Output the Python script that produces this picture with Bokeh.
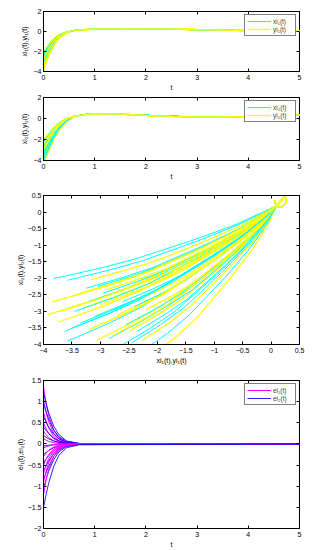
from bokeh.plotting import figure
from bokeh.layouts import column
from bokeh.models import LinearAxis, FixedTicker, Legend, LegendItem, Range1d
from bokeh.embed import file_html
from bokeh.resources import INLINE

# ---------------- data ----------------
t_head = [0, 0.05, 0.1, 0.2, 0.3, 0.45]
t_tail = [0.6, 0.8, 1, 1.5, 2, 2.5, 3, 3.5, 4, 4.5, 5]
x1_tail = [0.1, 0.19, 0.24, 0.27, 0.27, 0.23, 0.18, 0.13, 0.09, 0.07, 0.06]
x2_tail = [0.2, 0.38, 0.46, 0.41, 0.3, 0.21, 0.15, 0.15, 0.2, 0.28, 0.36]

xi1_head = [
    [-3.82, -3.04, -2.41, -1.39, -0.68, -0.14],
    [-3.58, -2.84, -2.26, -1.30, -0.64, -0.12],
    [-3.63, -2.88, -2.29, -1.32, -0.65, -0.12],
    [-3.58, -2.84, -2.26, -1.30, -0.64, -0.12],
    [-3.35, -2.66, -2.11, -1.21, -0.59, -0.11],
    [-3.20, -2.54, -2.01, -1.15, -0.56, -0.10],
    [-2.95, -2.34, -1.85, -1.06, -0.51, -0.08],
    [-2.85, -2.26, -1.79, -1.02, -0.49, -0.08],
    [-2.70, -2.14, -1.69, -0.96, -0.46, -0.07],
    [-2.55, -2.02, -1.60, -0.91, -0.43, -0.06],
    [-2.40, -1.90, -1.50, -0.85, -0.40, -0.05],
    [-2.30, -1.82, -1.44, -0.81, -0.38, -0.04],
    [-2.80, -2.22, -1.76, -1.00, -0.48, -0.07],
    [-3.45, -2.74, -2.17, -1.25, -0.61, -0.11],
    [-2.20, -1.74, -1.37, -0.77, -0.36, -0.04],
    [-3.05, -2.42, -1.92, -1.10, -0.53, -0.09],
    [-3.50, -2.78, -2.20, -1.27, -0.62, -0.12],
    [-3.25, -2.58, -2.04, -1.17, -0.57, -0.10],
    [-2.60, -2.06, -1.63, -0.93, -0.44, -0.06],
    [-2.45, -1.94, -1.53, -0.87, -0.41, -0.05],
    [-3.10, -2.46, -1.95, -1.12, -0.54, -0.09],
    [-2.35, -1.86, -1.47, -0.83, -0.39, -0.05],
]
xi2_head = [
    [-2.01, -1.71, -1.43, -0.86, -0.42, 0.00],
    [-2.06, -1.75, -1.47, -0.88, -0.43, -0.01],
    [-3.60, -3.09, -2.63, -1.65, -0.91, -0.21],
    [-3.90, -3.35, -2.85, -1.80, -1.00, -0.25],
    [-3.35, -2.88, -2.44, -1.53, -0.83, -0.17],
    [-2.70, -2.31, -1.95, -1.20, -0.63, -0.09],
    [-2.45, -2.09, -1.76, -1.08, -0.55, -0.06],
    [-3.82, -3.28, -2.79, -1.76, -0.98, -0.24],
    [-4.10, -3.53, -3.00, -1.90, -1.06, -0.27],
    [-3.40, -2.92, -2.48, -1.55, -0.85, -0.18],
    [-2.85, -2.44, -2.06, -1.28, -0.68, -0.11],
    [-4.25, -3.66, -3.11, -1.98, -1.11, -0.29],
    [-2.95, -2.53, -2.14, -1.33, -0.71, -0.12],
    [-3.00, -2.57, -2.18, -1.35, -0.72, -0.13],
    [-3.20, -2.75, -2.33, -1.45, -0.79, -0.16],
    [-2.25, -1.92, -1.61, -0.98, -0.49, -0.03],
    [-3.50, -3.01, -2.55, -1.60, -0.88, -0.19],
    [-2.30, -1.96, -1.65, -1.00, -0.51, -0.04],
    [-2.70, -2.31, -1.95, -1.20, -0.63, -0.09],
    [-3.95, -3.40, -2.89, -1.83, -1.02, -0.25],
    [-3.15, -2.70, -2.29, -1.43, -0.77, -0.15],
    [-3.60, -3.09, -2.63, -1.65, -0.91, -0.21],
]
yi1_head = [
    [-3.85, -3.06, -2.43, -1.40, -0.69, -0.14],
    [-3.92, -3.12, -2.47, -1.43, -0.70, -0.14],
    [-3.73, -2.96, -2.35, -1.36, -0.67, -0.13],
    [-3.18, -2.52, -2.00, -1.15, -0.56, -0.10],
    [-3.06, -2.43, -1.92, -1.10, -0.53, -0.09],
    [-2.26, -1.79, -1.41, -0.80, -0.37, -0.04],
    [-3.50, -2.78, -2.20, -1.27, -0.62, -0.12],
    [-3.30, -2.62, -2.08, -1.19, -0.58, -0.10],
    [-2.90, -2.30, -1.82, -1.04, -0.50, -0.08],
    [-2.70, -2.14, -1.69, -0.96, -0.46, -0.07],
    [-2.50, -1.98, -1.56, -0.89, -0.42, -0.06],
    [-2.60, -2.06, -1.63, -0.93, -0.44, -0.06],
    [-2.05, -1.62, -1.28, -0.72, -0.33, -0.03],
    [-3.00, -2.38, -1.88, -1.08, -0.52, -0.09],
    [-2.40, -1.90, -1.50, -0.85, -0.40, -0.05],
    [-3.20, -2.54, -2.01, -1.15, -0.56, -0.10],
    [-3.70, -2.94, -2.33, -1.34, -0.66, -0.13],
    [-3.00, -2.38, -1.88, -1.08, -0.52, -0.09],
    [-2.80, -2.22, -1.76, -1.00, -0.48, -0.07],
    [-3.35, -2.66, -2.11, -1.21, -0.59, -0.11],
    [-2.20, -1.74, -1.37, -0.77, -0.36, -0.04],
    [-2.75, -2.18, -1.72, -0.98, -0.47, -0.07],
]
yi2_head = [
    [-2.71, -2.32, -1.96, -1.21, -0.63, -0.09],
    [-3.10, -2.66, -2.25, -1.40, -0.75, -0.14],
    [-3.32, -2.85, -2.42, -1.51, -0.82, -0.17],
    [-2.05, -1.74, -1.46, -0.88, -0.43, -0.01],
    [-3.87, -3.33, -2.83, -1.79, -0.99, -0.24],
    [-3.88, -3.34, -2.84, -1.79, -1.00, -0.24],
    [-2.55, -2.18, -1.84, -1.13, -0.58, -0.07],
    [-2.90, -2.48, -2.10, -1.30, -0.69, -0.12],
    [-2.35, -2.01, -1.69, -1.03, -0.52, -0.05],
    [-3.10, -2.66, -2.25, -1.40, -0.75, -0.14],
    [-3.60, -3.09, -2.63, -1.65, -0.91, -0.21],
    [-2.55, -2.18, -1.84, -1.13, -0.58, -0.07],
    [-4.30, -3.70, -3.15, -2.00, -1.13, -0.30],
    [-3.40, -2.92, -2.48, -1.55, -0.85, -0.18],
    [-2.70, -2.31, -1.95, -1.20, -0.63, -0.09],
    [-3.55, -3.05, -2.59, -1.63, -0.89, -0.20],
    [-3.00, -2.57, -2.18, -1.35, -0.72, -0.13],
    [-2.80, -2.40, -2.03, -1.25, -0.66, -0.10],
    [-3.75, -3.22, -2.74, -1.73, -0.96, -0.23],
    [-2.45, -2.09, -1.76, -1.08, -0.55, -0.06],
    [-2.95, -2.53, -2.14, -1.33, -0.71, -0.12],
    [-2.45, -2.09, -1.76, -1.08, -0.55, -0.06],
]

t_err = [0, 0.05, 0.1, 0.2, 0.3, 0.45, 0.7, 5]
ei1 = [
    [1.35, 0.97, 0.68, 0.32, 0.15, 0.04, 0, 0],
    [1.05, 0.76, 0.53, 0.25, 0.12, 0.03, 0, 0],
    [0.75, 0.54, 0.38, 0.18, 0.08, 0.02, 0, 0],
    [0.5, 0.36, 0.25, 0.12, 0.06, 0.02, 0, 0],
    [0.3, 0.22, 0.15, 0.07, 0.03, 0.01, 0, 0],
    [0.12, 0.09, 0.06, 0.03, 0.01, 0, 0, 0],
    [-0.1, -0.07, -0.05, -0.02, -0.01, 0, 0, 0],
    [-0.3, -0.22, -0.15, -0.07, -0.03, -0.01, 0, 0],
    [-0.5, -0.36, -0.25, -0.12, -0.06, -0.02, 0, 0],
    [-0.7, -0.5, -0.35, -0.17, -0.08, -0.02, 0, 0],
    [-0.9, -0.65, -0.45, -0.22, -0.1, -0.03, 0, 0],
    [-1.2, -0.86, -0.6, -0.29, -0.13, -0.04, 0, 0],
]
ei2 = [
    [1.2, 0.96, 0.74, 0.42, 0.22, 0.07, 0.01, 0],
    [0.95, 0.76, 0.59, 0.33, 0.17, 0.06, 0.01, 0],
    [0.65, 0.52, 0.4, 0.23, 0.12, 0.04, 0.01, 0],
    [0.4, 0.32, 0.25, 0.14, 0.07, 0.02, 0, 0],
    [0.2, 0.16, 0.12, 0.07, 0.04, 0.01, 0, 0],
    [-0.05, -0.04, -0.03, -0.02, -0.01, 0, 0, 0],
    [-0.25, -0.2, -0.16, -0.09, -0.05, -0.02, 0, 0],
    [-0.45, -0.36, -0.28, -0.16, -0.08, -0.03, 0, 0],
    [-0.65, -0.52, -0.4, -0.23, -0.12, -0.04, -0.01, 0],
    [-0.85, -0.68, -0.53, -0.3, -0.15, -0.05, -0.01, 0],
    [-1.05, -0.84, -0.65, -0.37, -0.19, -0.06, -0.01, 0],
    [-1.5, -1.2, -0.93, -0.53, -0.27, -0.09, -0.02, 0],
]

t_ticks = [0, 1, 2, 3, 4, 5]
y12_ticks = [-4, -2, 0, 2]
phase_ticks = [-4, -3.5, -3, -2.5, -2, -1.5, -1, -0.5, 0, 0.5]
err_ticks = [-2, -1.5, -1, -0.5, 0, 0.5, 1, 1.5]

CYAN = "#00ffff"
YELLOW = "#ffff00"
MAGENTA = "#ff00ff"
BLUE = "#0000ff"
FONT = "Liberation Sans"
W = 305


def make_fig(h, xr, yr, top, bottom):
    return figure(width=W, height=h, x_range=Range1d(*xr), y_range=Range1d(*yr),
                  output_backend="svg", toolbar_location=None,
                  min_border_left=43, min_border_right=6,
                  min_border_top=top, min_border_bottom=bottom)


def style(p, xticks, yticks, xlabel, ylabel, ystand):
    p.grid.visible = False
    p.outline_line_color = "black"
    p.outline_line_width = 1
    p.xaxis[0].ticker = FixedTicker(ticks=xticks)
    p.yaxis[0].ticker = FixedTicker(ticks=yticks)
    p.xaxis[0].axis_label = xlabel
    p.yaxis[0].axis_label = ylabel
    for ax in (p.xaxis[0], p.yaxis[0]):
        ax.major_tick_in = 3
        ax.major_tick_out = 0
        ax.minor_tick_line_color = None
        ax.axis_line_color = "black"
        ax.major_tick_line_color = "black"
        ax.major_label_text_font = FONT
        ax.major_label_text_font_size = "7px"
        ax.major_label_text_color = "black"
        ax.axis_label_text_font = FONT
        ax.axis_label_text_font_size = "7px"
        ax.axis_label_text_font_style = "normal"
        ax.axis_label_text_color = "black"
    p.xaxis[0].major_label_standoff = 3
    p.xaxis[0].axis_label_standoff = 1
    p.yaxis[0].major_label_standoff = 2
    p.yaxis[0].axis_label_standoff = ystand
    for loc, ticks in (("right", yticks), ("above", xticks)):
        ax = LinearAxis(ticker=FixedTicker(ticks=ticks),
                        major_label_overrides={float(v): "" for v in ticks},
                        major_label_standoff=0, major_tick_in=3, major_tick_out=0,
                        minor_tick_line_color=None, axis_line_color=None,
                        major_tick_line_color="black")
        p.add_layout(ax, loc)


def add_legend(p, items):
    lg = Legend(items=[LegendItem(label=l, renderers=[r]) for l, r in items],
                location="top_right", margin=3, padding=2, spacing=0,
                glyph_width=24, glyph_height=8, label_height=8, label_standoff=2,
                label_text_font=FONT, label_text_font_size="6.5px",
                border_line_color="black", border_line_width=1,
                background_fill_color="white", background_fill_alpha=1)
    p.add_layout(lg)


t_full = t_head + t_tail


def pair_lines(p, xs_c, ys_c, xs_y, ys_y):
    """Draw cyan and yellow curves interleaved (yellow slightly wider)."""
    rc = ry = None
    for xc, yc, xy, yy in zip(xs_c, ys_c, xs_y, ys_y):
        a = p.line(xc, yc, line_color=CYAN, line_width=1)
        b = p.line(xy, yy, line_color=YELLOW, line_width=1.25)
        rc = rc or a
        ry = ry or b
    return rc, ry


# Panel 1
p1 = make_fig(93, (0, 5), (-4, 2), 11, 21)
style(p1, t_ticks, y12_ticks, "t", "xi\u2081(t),yi\u2081(t)", 3)
rc, ry = pair_lines(p1, [t_full] * len(xi1_head), [v + x1_tail for v in xi1_head],
                    [t_full] * len(yi1_head), [v + x1_tail for v in yi1_head])
add_legend(p1, [("xi\u2081(t)", rc), ("yi\u2081(t)", ry)])

# Panel 2
p2 = make_fig(97, (0, 5), (-4, 2), 4, 30)
style(p2, t_ticks, y12_ticks, "t", "xi\u2082(t),yi\u2082(t)", 3)
rc, ry = pair_lines(p2, [t_full] * len(xi2_head), [v + x2_tail for v in xi2_head],
                    [t_full] * len(yi2_head), [v + x2_tail for v in yi2_head])
add_legend(p2, [("xi\u2082(t)", rc), ("yi\u2082(t)", ry)])

# Panel 3 (phase plane)
p3 = make_fig(186, (-4, 0.5), (-4, 0.5), 5, 32)
style(p3, phase_ticks, phase_ticks, "xi\u2081(t),yi\u2081(t)", "xi\u2082(t),yi\u2082(t)", 1)
pair_lines(p3, [v + x1_tail for v in xi1_head], [v + x2_tail for v in xi2_head],
           [v + x1_tail for v in yi1_head], [v + x2_tail for v in yi2_head])

# Panel 4 (errors)
p4 = make_fig(174, (0, 5), (-2, 1.5), 4, 21)
style(p4, t_ticks, err_ticks, "t", "ei\u2081(t),ei\u2082(t)", 1)
rm = rb = None
for a, b in zip(ei1, ei2):
    r1 = p4.line(t_err, a, line_color=MAGENTA, line_width=1)
    r2 = p4.line(t_err, b, line_color=BLUE, line_width=1, line_alpha=0.85)
    rm = rm or r1
    rb = rb or r2
add_legend(p4, [("ei\u2081(t)", rm), ("ei\u2082(t)", rb)])

layout = column(p1, p2, p3, p4, spacing=0)
open("out.html", "w").write(file_html(layout, INLINE))
